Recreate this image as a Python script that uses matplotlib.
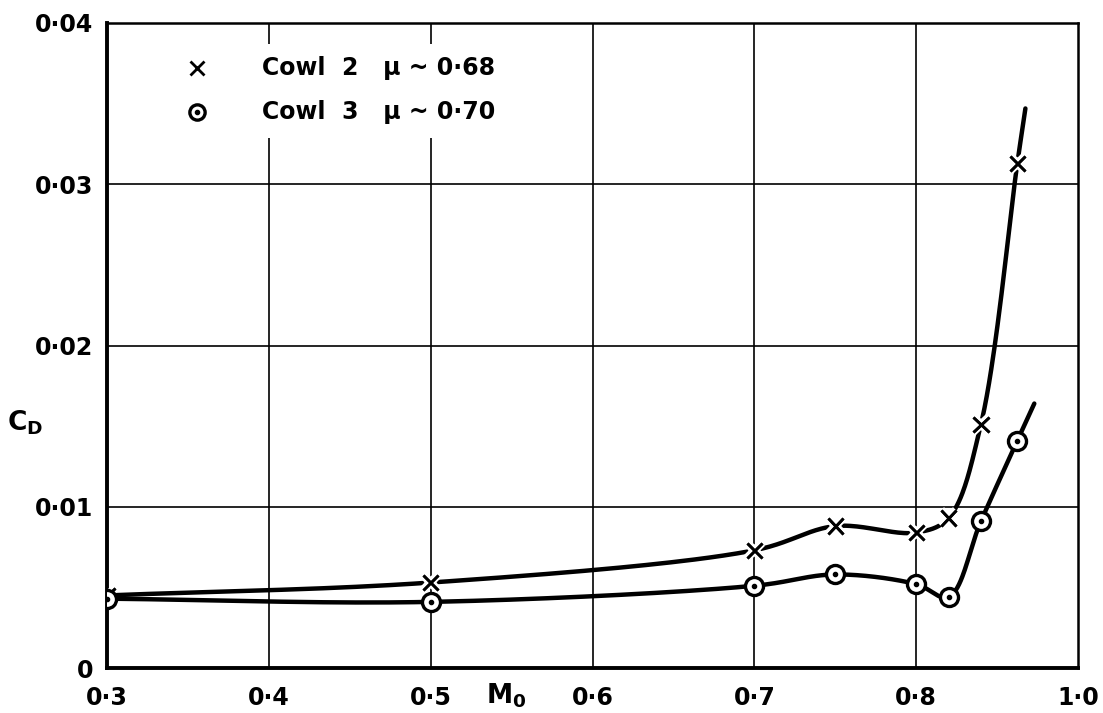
import numpy as np
import matplotlib
matplotlib.use("Agg")
import matplotlib.pyplot as plt
from matplotlib import patheffects as pe
from matplotlib.patches import Rectangle

plt.rcParams['font.family'] = ['DejaVu Sans']
plt.rcParams['mathtext.fontset'] = 'dejavusans'

# Free-stream Mach number and drag coefficient for the two cowls
mach = [0.3, 0.5, 0.7, 0.75, 0.8, 0.84, 0.88, 0.925]
cd_cowl2 = [0.0045, 0.0053, 0.0073, 0.0088, 0.0084, 0.0093, 0.0151, 0.0313]
cd_cowl3 = [0.0043, 0.0041, 0.0051, 0.0058, 0.0052, 0.0044, 0.0091, 0.0141]

# Where each faired curve is carried on past its last test point
curve_end_mach = [0.935, 0.946]
curve_end_cd = [0.0347, 0.0164]

x_ticks = [0.3, 0.4, 0.5, 0.6, 0.7, 0.8, 1.0]
x_tick_labels = ['0·3', '0·4', '0·5', '0·6', '0·7', '0·8', '1·0']
y_ticks = [0.0, 0.01, 0.02, 0.03, 0.04]
y_tick_labels = ['0', '0·01', '0·02', '0·03', '0·04']
x_grid = [0.4, 0.5, 0.6, 0.7, 0.8]
y_grid = [0.01, 0.02, 0.03]

legend_labels = ['Cowl  2   μ ~ 0·68', 'Cowl  3   μ ~ 0·70']


# Mach axis: uniform to 0.8, then drawn at half scale up to 1.0
def fwd(x):
    x = np.asarray(x, dtype=float)
    return np.where(x <= 0.8, x, 0.8 + (x - 0.8) / 2.0)


def inv(u):
    u = np.asarray(u, dtype=float)
    return np.where(u <= 0.8, u, 0.8 + (u - 0.8) * 2.0)


def faired_curve(xs, ys, n=40):
    """Centripetal Catmull-Rom curve through the points, built in a
    roughly isotropic (screen-like) space so the fairing looks even."""
    sx, sy = 970 / 0.6, 645 / 0.04
    P = np.column_stack([fwd(xs) * sx, np.asarray(ys) * sy])
    P = np.vstack([2 * P[0] - P[1], P, 2 * P[-1] - P[-2]])
    out = []
    for i in range(1, len(P) - 2):
        p0, p1, p2, p3 = P[i - 1], P[i], P[i + 1], P[i + 2]
        t0 = 0.0
        t1 = t0 + np.linalg.norm(p1 - p0) ** 0.5
        t2 = t1 + np.linalg.norm(p2 - p1) ** 0.5
        t3 = t2 + np.linalg.norm(p3 - p2) ** 0.5
        t = np.linspace(t1, t2, n)[:, None]
        a1 = (t1 - t) / (t1 - t0) * p0 + (t - t0) / (t1 - t0) * p1
        a2 = (t2 - t) / (t2 - t1) * p1 + (t - t1) / (t2 - t1) * p2
        a3 = (t3 - t) / (t3 - t2) * p2 + (t - t2) / (t3 - t2) * p3
        b1 = (t2 - t) / (t2 - t0) * a1 + (t - t0) / (t2 - t0) * a2
        b2 = (t3 - t) / (t3 - t1) * a2 + (t - t1) / (t3 - t1) * a3
        c = (t2 - t) / (t2 - t1) * b1 + (t - t1) / (t2 - t1) * b2
        out.append(c if i == 1 else c[1:])
    c = np.vstack(out)
    return inv(c[:, 0] / sx), c[:, 1] / sy


fig = plt.figure(figsize=(11.03, 7.13), dpi=100)
ax = fig.add_axes([107 / 1103, 1 - 668 / 713, 971 / 1103, 645 / 713])
ax.set_xscale('function', functions=(fwd, inv))
ax.set_xlim(0.3, 1.0)
ax.set_ylim(0.0, 0.04)

for xv in x_grid:
    ax.axvline(xv, color='black', lw=1.2, zorder=1)
for yv in y_grid:
    ax.axhline(yv, color='black', lw=1.2, zorder=1)

for side in ['left', 'bottom']:
    ax.spines[side].set_linewidth(2.8)
for side in ['top', 'right']:
    ax.spines[side].set_linewidth(1.8)

tick_font = dict(fontsize=17, fontweight='bold')
ax.set_xticks(x_ticks)
ax.set_xticklabels(x_tick_labels, **tick_font)
ax.set_yticks(y_ticks)
ax.set_yticklabels(y_tick_labels, **tick_font)
ax.xaxis.set_minor_locator(plt.NullLocator())
ax.tick_params(axis='both', length=0)
ax.tick_params(axis='x', pad=13)
ax.tick_params(axis='y', pad=10)

# Faired curves
for cd, (xe, ye) in zip([cd_cowl2, cd_cowl3], zip(curve_end_mach, curve_end_cd)):
    cx, cy = faired_curve(mach + [xe], cd + [ye])
    ax.plot(cx, cy, color='black', lw=3.2, solid_capstyle='round', zorder=3)

halo = [pe.withStroke(linewidth=6, foreground='white'), pe.Normal()]
ax.plot(mach, cd_cowl2, linestyle='none', marker='x', ms=11, mew=2,
        color='black', zorder=5, path_effects=halo)
ax.plot(mach, cd_cowl3, linestyle='none', marker='o', ms=13, mew=2.4,
        mfc='white', mec='black', zorder=5)
ax.plot(mach, cd_cowl3, linestyle='none', marker='o', ms=3,
        color='black', zorder=6)

# Key, lettered on a clear patch over the grid
ax.add_patch(Rectangle((0.075, 0.822), 0.33, 0.146, transform=ax.transAxes,
                       facecolor='white', edgecolor='none', zorder=2))
key_y = [0.930, 0.862]
ax.plot([0.0927], [key_y[0]], transform=ax.transAxes, marker='x', ms=10,
        mew=2, color='black', zorder=7)
ax.plot([0.0927], [key_y[1]], transform=ax.transAxes, marker='o', ms=11,
        mew=2.4, mfc='white', mec='black', zorder=7)
ax.plot([0.0927], [key_y[1]], transform=ax.transAxes, marker='o', ms=3,
        color='black', zorder=8)
for ky, lab in zip(key_y, legend_labels):
    ax.text(0.160, ky, lab, transform=ax.transAxes, fontsize=17,
            fontweight='bold', va='center', ha='left', zorder=7)

ax.text(0.411, -0.043, r'$\mathbf{M_0}$', transform=ax.transAxes,
        fontsize=19, ha='center', va='center')
ax.text(-0.084, 0.38, r'$\mathbf{C_D}$', transform=ax.transAxes,
        fontsize=19, ha='center', va='center')

fig.savefig('out.png', dpi=100, facecolor='white')
